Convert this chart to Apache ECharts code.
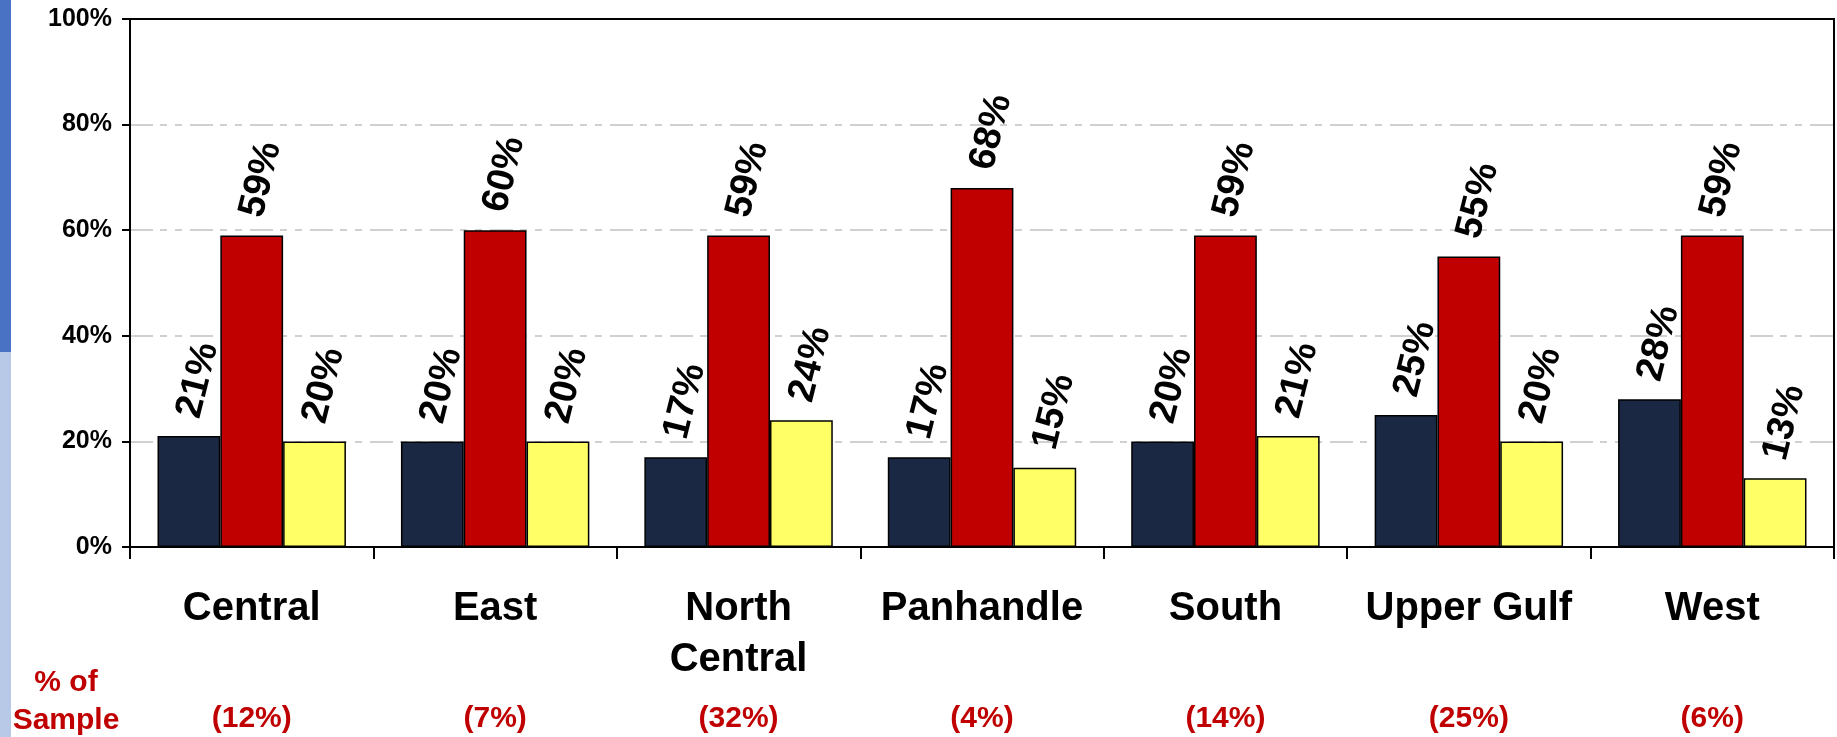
<!DOCTYPE html>
<html>
<head>
<meta charset="utf-8">
<script src="https://cdn.jsdelivr.net/npm/echarts@6/dist/echarts.min.js"></script>
<style>
  html, body { margin: 0; padding: 0; background: #fff; }
  #chart { width: 1837px; height: 737px; }
</style>
</head>
<body>
<div id="chart"></div>
<script>
// regions on the x axis (line break = two-line label)
const regions = ["Central", "East", "North\nCentral", "Panhandle", "South", "Upper Gulf", "West"];
// share of sample per region (%)
const samplePct = [12, 7, 32, 4, 14, 25, 6];
// the three bars in each group (%)
const navyVals = [21, 20, 17, 17, 20, 25, 28];
const redVals = [59, 60, 59, 68, 59, 55, 59];
const yellowVals = [20, 20, 24, 15, 21, 20, 13];
const yTicks = [0, 20, 40, 60, 80, 100];

const FONT = "Arial, 'Liberation Sans', sans-serif";

const chart = echarts.init(document.getElementById("chart"));

function barSeries(name, data, color) {
  return {
    name: name,
    type: "bar",
    data: data,
    barGap: "0%",
    barCategoryGap: "22.6%",
    animation: false,
    itemStyle: { color: color, borderColor: "#000", borderWidth: 1.5 },
    label: {
      show: true,
      position: "top",
      distance: 19,
      rotate: 76,
      align: "left",
      verticalAlign: "middle",
      formatter: "{c}%",
      color: "#000",
      fontFamily: FONT,
      fontWeight: "bold",
      fontSize: 38
    }
  };
}

chart.setOption({
  backgroundColor: "#fff",
  grid: {
    left: 130,
    right: 3,
    top: 19,
    bottom: 190,
    show: true,
    borderColor: "#000",
    borderWidth: 2
  },
  xAxis: {
    type: "category",
    data: regions,
    axisLine: { lineStyle: { color: "#000", width: 2 } },
    axisTick: { show: true, length: 12, lineStyle: { color: "#000", width: 2 } },
    axisLabel: {
      interval: 0,
      margin: 36,
      align: "center",
      formatter: function (v, i) {
        const parts = v.split("\n");
        return "{n|" + parts[0] + "}\n{n|" + (parts[1] || " ") + "}\n{p|(" + samplePct[i] + "%)}";
      },
      rich: {
        n: { fontFamily: FONT, fontWeight: "bold", fontSize: 40, lineHeight: 51, color: "#000", align: "center" },
        p: { fontFamily: FONT, fontWeight: "bold", fontSize: 30, lineHeight: 68, color: "#C00000", align: "center" }
      }
    }
  },
  yAxis: {
    type: "value",
    min: yTicks[0],
    max: yTicks[yTicks.length - 1],
    interval: 20,
    axisLine: { show: true, lineStyle: { color: "#000", width: 2 } },
    axisTick: { show: true, length: 8, lineStyle: { color: "#000", width: 2 } },
    axisLabel: {
      margin: 18,
      formatter: "{value}%",
      color: "#000",
      fontFamily: FONT,
      fontWeight: "bold",
      fontSize: 25
    },
    splitLine: {
      show: true,
      showMinLine: false,
      showMaxLine: false,
      lineStyle: { color: "#d0d0d0", width: 2, type: [23, 7, 7, 8, 7, 8] }
    }
  },
  graphic: [
    { type: "rect", left: 0, top: 0, shape: { width: 11, height: 352 }, style: { fill: "#4A72C4" } },
    { type: "rect", left: 0, top: 352, shape: { width: 11, height: 385 }, style: { fill: "#B8C9E8" } },
    {
      type: "text",
      x: 66,
      y: 702,
      style: {
        text: "% of\nSample",
        align: "center",
        verticalAlign: "middle",
        fill: "#C00000",
        fontFamily: FONT,
        fontWeight: "bold",
        fontSize: 30,
        lineHeight: 38
      }
    }
  ],
  series: [
    barSeries("Series 1", navyVals, "#1B2844"),
    barSeries("Series 2", redVals, "#C00000"),
    barSeries("Series 3", yellowVals, "#FFFF66")
  ]
});
</script>
</body>
</html>
